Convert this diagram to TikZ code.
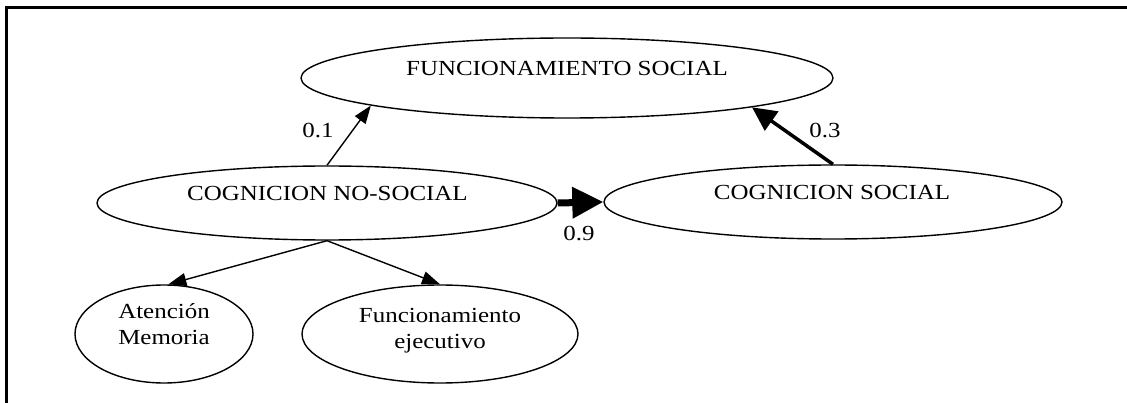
\documentclass[tikz,border=0pt]{standalone}
\usepackage{fontspec}
\setmainfont{Liberation Serif}
\newfontfamily\lblfont[FakeStretch=1.16]{Liberation Serif}
\usetikzlibrary{arrows.meta,shapes.geometric}
\tikzset{
  ell/.style={ellipse, draw, line width=1.4pt, inner sep=0pt},
  txt/.style={font=\lblfont\fontsize{21.5}{26}\selectfont, inner sep=0pt},
  thinedge/.style={line width=1.4pt, -{Triangle[length=18pt,width=13pt]}},
  midedge/.style={line width=3.5pt, -{Triangle[length=24pt,width=23pt]}},
  fatedge/.style={line width=7pt, -{Triangle[length=31pt,width=30pt]}},
  frame/.style={line width=3pt}
}
\begin{document}
\begin{tikzpicture}[x=1pt,y=-1pt]
\useasboundingbox (0,0) rectangle (1127,403);
% frame (top and left only)
\coordinate (fl) at (6,403);
\coordinate (ftl) at (6,8);
\coordinate (ftr) at (1127,8);
\draw[frame] (fl) -- (ftl) -- (ftr);
% ellipses
\node[ell, minimum width=532pt, minimum height=80pt] (fs) at (567,78) {};
\node[ell, minimum width=460pt, minimum height=74pt] (ns) at (327,203) {};
\node[ell, minimum width=458pt, minimum height=74pt] (cs) at (833,202) {};
\node[ell, minimum width=178pt, minimum height=98pt] (am) at (164,334) {};
\node[ell, minimum width=276pt, minimum height=98pt] (fe) at (440,334) {};
% texts
\node[txt, anchor=base] (fst) at (567,76) {FUNCIONAMIENTO SOCIAL};
\node[txt, anchor=base] (nst) at (327.5,201) {COGNICION NO-SOCIAL};
\node[txt, anchor=base] (cst) at (832,200) {COGNICION SOCIAL};
\node[txt, align=center] (amt) at (164,324.3) {Atención\\Memoria};
\node[txt, align=center] (fet) at (440,330.5) {Funcionamiento\\ejecutivo};
% edges
\draw[thinedge] (ns.north) -- (fs.188.9);
\draw[midedge] (cs.north) -- (fs.351.3);
\draw[fatedge] (ns.east) -- (cs.west);
\draw[thinedge] (ns.south) -- (am.85);
\draw[thinedge] (ns.south) -- (fe.north);
% edge labels
\node[txt, anchor=base] (l01) at (318,138) {0.1};
\node[txt, anchor=base] (l03) at (825,138) {0.3};
\node[txt, anchor=base] (l09) at (579,241) {0.9};
\end{tikzpicture}
\end{document}
